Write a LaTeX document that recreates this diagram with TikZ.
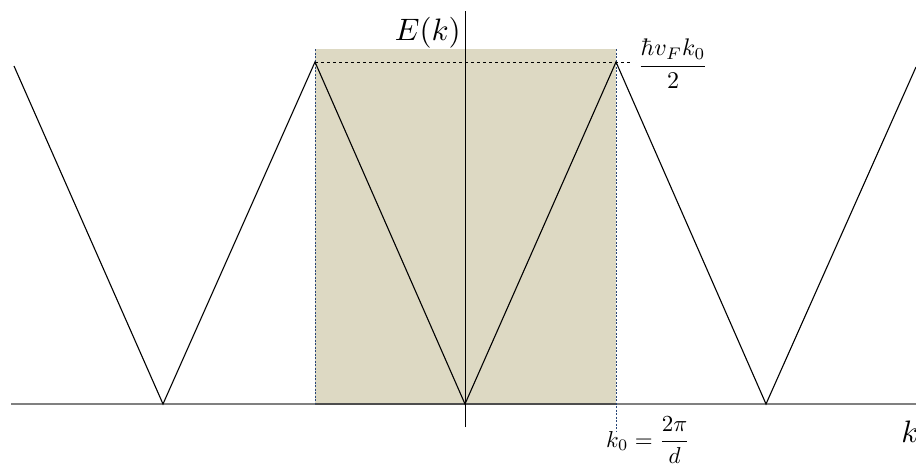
\documentclass[tikz,border=0pt]{standalone}
\usepackage{amsmath}
\usepackage{graphicx}
\begin{document}
\begin{tikzpicture}[x=1pt,y=-1pt,
  band/.style={black, line width=1.1pt},
  axisline/.style={line width=1.1pt},
  guide/.style={dashed, line width=0.7pt},
  blueguide/.style={dash pattern=on 2pt off 1.5pt, line width=0.7pt, draw=bluedash},
  lbl/.style={inner sep=0pt}]
\definecolor{tanfill}{RGB}{221,217,195}
\definecolor{axisgray}{RGB}{128,128,128}
\definecolor{bluedash}{RGB}{40,70,120}
\useasboundingbox (0,0) rectangle (916,466);
% Brillouin zone
\fill[tanfill] (315,49) rectangle (616,404);
% coordinates
\coordinate (a0) at (14,66);
\coordinate (a1) at (163,404);
\coordinate (a2) at (315,62);
\coordinate (a3) at (465,404);
\coordinate (a4) at (616,62);
\coordinate (a5) at (766,404);
\coordinate (a6) at (916,67);
\coordinate (xl) at (11,404);
\coordinate (xr) at (916,404);
\coordinate (yb) at (465,427);
\coordinate (yt) at (465,11);
\coordinate (bl) at (315,49);
\coordinate (blb) at (315,404);
\coordinate (br) at (616,49);
\coordinate (brb) at (616,432);
\coordinate (dr) at (632,62);
% axes
\draw[axisline, axisgray] (xl) -- (xr);
\draw[axisline, axisgray!60!black] (blb) -- (a3 -| br);
\draw[line width=0.9pt] (yb) -- (yt);
% guides
\draw[blueguide] (bl) -- (blb);
\draw[blueguide] (br) -- (brb);
\draw[guide] (a2) -- (dr);
% dispersion
\draw[band, line join=miter] (a0) -- (a1) -- (a2) -- (a3) -- (a4) -- (a5) -- (a6);
% labels
\node[lbl, anchor=east] (E) at (461,33) {\scalebox{3.1}{$E(k)$}};
\node[lbl] (en) at (673,64) {\scalebox{2.4}{$\dfrac{\hbar v_F k_0}{2}$}};
\node[lbl, anchor=west] (k0) at (606,440) {\scalebox{2.3}{$k_0=\dfrac{2\pi}{d}$}};
\node[lbl] (kk) at (910,432) {\scalebox{3.1}{$k$}};
\end{tikzpicture}
\end{document}
